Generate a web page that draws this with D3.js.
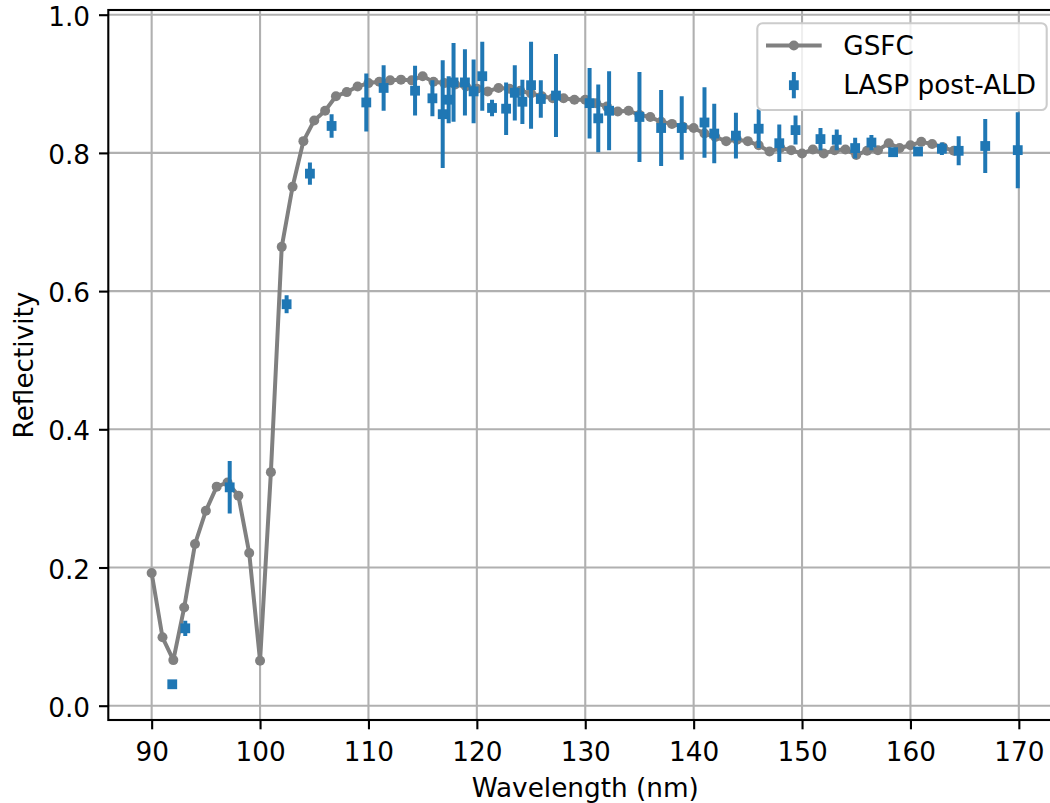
<!DOCTYPE html>
<html>
<head>
<meta charset="utf-8">
<script src="https://cdn.jsdelivr.net/npm/d3@7"></script>
<style>
  html, body { margin: 0; padding: 0; background: #ffffff; }
  svg { display: block; }
  text { font-family: "DejaVu Sans", sans-serif; fill: #000; }
</style>
</head>
<body>
<svg id="chart" width="1050" height="803"></svg>
<script>
// GSFC reference curve, 1 nm steps
const gsfcWavelength = d3.range(90, 165);
const gsfcReflectivity = [
  0.192, 0.099, 0.066, 0.142, 0.234, 0.282, 0.317, 0.323, 0.304, 0.221,
  0.065, 0.338, 0.664, 0.751, 0.817, 0.847, 0.861, 0.882, 0.888, 0.896,
  0.901, 0.903, 0.905, 0.906, 0.905, 0.911, 0.903, 0.901, 0.899, 0.896,
  0.893, 0.889, 0.894, 0.893, 0.890, 0.886, 0.882, 0.879, 0.879, 0.877,
  0.877, 0.872, 0.867, 0.860, 0.861, 0.855, 0.852, 0.845, 0.842, 0.838,
  0.836, 0.828, 0.823, 0.817, 0.819, 0.817, 0.811, 0.802, 0.807, 0.804,
  0.799, 0.805, 0.799, 0.804, 0.805, 0.797, 0.803, 0.804, 0.814, 0.807,
  0.811, 0.816, 0.813, 0.808, 0.803
];

// LASP measurements after ALD coating, with 1-sigma uncertainty
const laspWavelength = [
  91.9, 93.1, 97.2, 102.45, 104.6, 106.6, 109.8, 111.4, 114.3, 115.9,
  116.85, 117.4, 117.85, 118.9, 119.7, 120.5, 121.4, 122.7, 123.5, 124.2,
  125.0, 125.9, 127.3, 130.4, 131.2, 132.2, 135.0, 137.0, 138.9, 141.0,
  141.9, 143.9, 146.0, 147.9, 149.4, 151.7, 153.2, 154.9, 156.4, 158.4,
  160.7, 162.9, 164.45, 166.9, 169.9
];
const laspReflectivity = [
  0.031, 0.112, 0.316, 0.581, 0.770, 0.839, 0.873, 0.894, 0.890, 0.879,
  0.856, 0.877, 0.902, 0.902, 0.889, 0.911, 0.865, 0.864, 0.887, 0.874,
  0.898, 0.878, 0.883, 0.872, 0.850, 0.861, 0.852, 0.836, 0.836, 0.844,
  0.828, 0.825, 0.835, 0.814, 0.833, 0.820, 0.819, 0.807, 0.815, 0.801,
  0.802, 0.806, 0.803, 0.810, 0.804
];
const laspError = [
  0.004, 0.011, 0.038, 0.013, 0.016, 0.017, 0.042, 0.033, 0.036, 0.026,
  0.078, 0.034, 0.057, 0.048, 0.046, 0.050, 0.012, 0.038, 0.040, 0.032,
  0.063, 0.027, 0.060, 0.051, 0.049, 0.057, 0.065, 0.055, 0.046, 0.051,
  0.043, 0.033, 0.028, 0.027, 0.021, 0.016, 0.015, 0.015, 0.011, 0.006,
  0.006, 0.009, 0.021, 0.039, 0.055
];

const xTicks = [90, 100, 110, 120, 130, 140, 150, 160, 170];
const yTicks = [0.0, 0.2, 0.4, 0.6, 0.8, 1.0];
const seriesNames = ["GSFC", "LASP post-ALD"];

const FS = 26.3;
const GRAY = "#808080";
const BLUE = "#1f77b4";

const plot = { left: 108.3, right: 1062.2, top: 10, bottom: 720 };

const svg = d3.select("#chart");

const x = d3.scaleLinear().domain([86, 174]).range([plot.left, plot.right]);
const y = d3.scaleLinear().domain([-0.0207, 1.0068]).range([plot.bottom, plot.top]);

svg.append("defs").append("clipPath").attr("id", "plot-clip")
  .append("rect")
  .attr("x", plot.left).attr("y", plot.top)
  .attr("width", plot.right - plot.left).attr("height", plot.bottom - plot.top);

// grid
const grid = svg.append("g").attr("stroke", "#b0b0b0").attr("stroke-width", 2.1);
grid.selectAll("line.gx").data(xTicks).join("line")
  .attr("class", "gx")
  .attr("x1", d => x(d)).attr("x2", d => x(d))
  .attr("y1", plot.top).attr("y2", plot.bottom);
grid.selectAll("line.gy").data(yTicks).join("line")
  .attr("class", "gy")
  .attr("x1", plot.left).attr("x2", plot.right)
  .attr("y1", d => y(d)).attr("y2", d => y(d));

const data = svg.append("g").attr("clip-path", "url(#plot-clip)");

// GSFC line with dots
const dotR = 5;
const gsfc = gsfcWavelength.map((w, i) => ({ w, r: gsfcReflectivity[i] }));
data.append("path")
  .datum(gsfc)
  .attr("fill", "none")
  .attr("stroke", GRAY)
  .attr("stroke-width", 4)
  .attr("stroke-linejoin", "round")
  .attr("d", d3.line().x(d => x(d.w)).y(d => y(d.r)));
data.selectAll("circle.gsfc").data(gsfc).join("circle")
  .attr("class", "gsfc")
  .attr("cx", d => x(d.w)).attr("cy", d => y(d.r))
  .attr("r", dotR)
  .attr("fill", GRAY);

// LASP error bars and square markers
const lasp = laspWavelength.map((w, i) => ({ w, r: laspReflectivity[i], e: laspError[i] }));
data.selectAll("line.err").data(lasp).join("line")
  .attr("class", "err")
  .attr("x1", d => x(d.w)).attr("x2", d => x(d.w))
  .attr("y1", d => y(d.r - d.e)).attr("y2", d => y(d.r + d.e))
  .attr("stroke", BLUE).attr("stroke-width", 4);
const sq = 9.8;
data.selectAll("rect.lasp").data(lasp).join("rect")
  .attr("class", "lasp")
  .attr("x", d => x(d.w) - sq / 2).attr("y", d => y(d.r) - sq / 2)
  .attr("width", sq).attr("height", sq)
  .attr("fill", BLUE);

// axes
const xAxis = svg.append("g")
  .attr("transform", `translate(0,${plot.bottom})`)
  .call(d3.axisBottom(x).tickValues(xTicks).tickFormat(d3.format("d")).tickSize(9.3).tickPadding(9.3));
const yAxis = svg.append("g")
  .attr("transform", `translate(${plot.left},0)`)
  .call(d3.axisLeft(y).tickValues(yTicks).tickFormat(d3.format(".1f")).tickSize(9.3).tickPadding(9.3));

[xAxis, yAxis].forEach(g => {
  g.select(".domain").remove();
  g.selectAll(".tick line").attr("stroke", "#000").attr("stroke-width", 2.1);
  g.selectAll(".tick text")
    .style("font-family", '"DejaVu Sans", sans-serif')
    .style("font-size", FS + "px")
    .attr("fill", "#000");
});
xAxis.selectAll(".tick text").attr("y", 41).attr("dy", 0);
yAxis.selectAll(".tick text").attr("x", -18.3).attr("dy", "0.4em");

// spines
svg.append("rect")
  .attr("x", plot.left).attr("y", plot.top)
  .attr("width", plot.right - plot.left).attr("height", plot.bottom - plot.top)
  .attr("fill", "none").attr("stroke", "#000").attr("stroke-width", 2.1);

// axis labels
svg.append("text")
  .attr("x", (plot.left + plot.right) / 2).attr("y", 797)
  .attr("text-anchor", "middle")
  .style("font-size", FS + "px")
  .text("Wavelength (nm)");
svg.append("text")
  .attr("transform", `translate(33,${(plot.top + plot.bottom) / 2}) rotate(-90)`)
  .attr("text-anchor", "middle")
  .style("font-size", FS + "px")
  .text("Reflectivity");

// legend
const legend = svg.append("g");
legend.append("rect")
  .attr("x", 757.3).attr("y", 23.3)
  .attr("width", 289.4).attr("height", 86.7)
  .attr("rx", 5.3).attr("ry", 5.3)
  .attr("fill", "#ffffff").attr("fill-opacity", 0.8)
  .attr("stroke", "#cccccc").attr("stroke-width", 2.1);

const lx0 = 766, lx1 = 821.7, lxc = (lx0 + lx1) / 2;
legend.append("line")
  .attr("x1", lx0).attr("x2", lx1).attr("y1", 45.5).attr("y2", 45.5)
  .attr("stroke", GRAY).attr("stroke-width", 4);
legend.append("circle")
  .attr("cx", lxc).attr("cy", 45.5).attr("r", dotR).attr("fill", GRAY);
legend.append("line")
  .attr("x1", lxc).attr("x2", lxc).attr("y1", 72).attr("y2", 98.3)
  .attr("stroke", BLUE).attr("stroke-width", 4);
legend.append("rect")
  .attr("x", lxc - sq / 2).attr("y", 85.2 - sq / 2)
  .attr("width", sq).attr("height", sq).attr("fill", BLUE);

legend.selectAll("text").data(seriesNames).join("text")
  .attr("x", 843.3)
  .attr("y", (d, i) => 55 + i * 38.5)
  .style("font-size", FS + "px")
  .text(d => d);
</script>
</body>
</html>
